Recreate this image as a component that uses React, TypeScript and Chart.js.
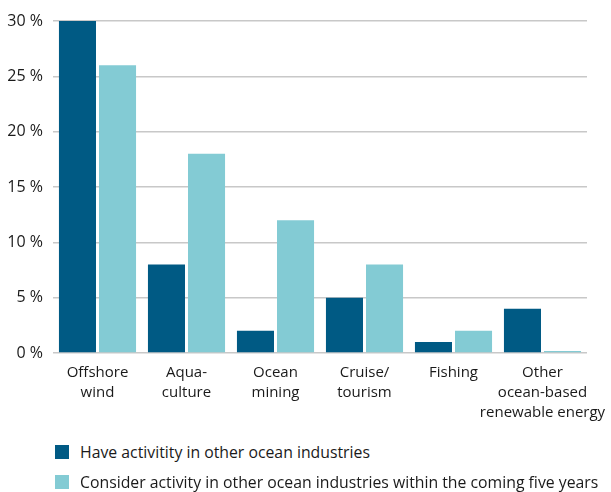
import React, { useEffect, useRef } from "react";
import { Chart, registerables } from "chart.js";

Chart.register(...registerables);

const categories: string[][] = [
  ["Offshore", "wind"],
  ["Aqua-", "culture"],
  ["Ocean", "mining"],
  ["Cruise/", "tourism"],
  ["Fishing"],
  ["Other", "ocean-based", "renewable energy"],
];
const haveActivity = [30, 8, 2, 5, 1, 4];
const considerActivity = [26, 18, 12, 8, 2, 0];
const seriesNames = [
  "Have activitity in other ocean industries",
  "Consider activity in other ocean industries within the coming five years",
];
const seriesColors = ["#005A84", "#83CBD4"];
const yMin = 0;
const yMax = 30;
const yStep = 5;

const FONT = "'Open Sans', 'Noto Sans', sans-serif";
const TEXT = "#1a1a1a";

export default function App() {
  const ref = useRef<HTMLCanvasElement | null>(null);

  useEffect(() => {
    if (!ref.current) return;
    const chart = new Chart(ref.current, {
      type: "bar",
      data: {
        labels: categories,
        datasets: [
          {
            label: seriesNames[0],
            data: haveActivity,
            backgroundColor: seriesColors[0],
            categoryPercentage: 0.9,
            barPercentage: 0.925,
          },
          {
            label: seriesNames[1],
            data: considerActivity,
            backgroundColor: seriesColors[1],
            categoryPercentage: 0.9,
            barPercentage: 0.925,
            minBarLength: 2,
          },
        ],
      },
      options: {
        animation: false,
        responsive: false,
        maintainAspectRatio: false,
        layout: { padding: { top: 21, right: 24, bottom: 4, left: 0 } },
        plugins: {
          legend: { display: false },
          tooltip: { enabled: false },
        },
        scales: {
          x: {
            grid: { display: false, drawTicks: false },
            border: { display: false },
            afterFit: (scale: any) => {
              scale.paddingLeft = 0;
              scale.paddingRight = 0;
            },
            ticks: {
              color: TEXT,
              padding: 10,
              maxRotation: 0,
              autoSkip: false,
              font: { family: FONT, size: 15, lineHeight: "20px" as any },
            },
          },
          y: {
            min: yMin,
            max: yMax,
            border: { display: false },
            grid: { color: "#c8c8c8", lineWidth: 1.5, drawTicks: false },
            afterFit: (scale: any) => {
              scale.width = 53;
            },
            ticks: {
              stepSize: yStep,
              color: TEXT,
              padding: 10,
              font: { family: FONT, size: 16 },
              callback: (v: any) => `${v} %`,
            },
          },
        },
      },
    });
    return () => chart.destroy();
  }, []);

  return (
    <div style={{ position: "fixed", left: 0, top: 0, width: 611, height: 492, background: "#fff" }}>
      <canvas ref={ref} width={611} height={437} style={{ display: "block" }} />
      {seriesNames.map((name, i) => (
        <div
          key={name}
          style={{
            position: "absolute",
            left: 55,
            top: 443 + i * 30,
            height: 18,
            display: "flex",
            alignItems: "center",
            fontFamily: FONT,
            fontSize: 15.8,
            color: TEXT,
            whiteSpace: "nowrap",
          }}
        >
          <span style={{ width: 14, height: 14, background: seriesColors[i], marginRight: 11, display: "inline-block", flexShrink: 0 }} />
          <span>{name}</span>
        </div>
      ))}
    </div>
  );
}
